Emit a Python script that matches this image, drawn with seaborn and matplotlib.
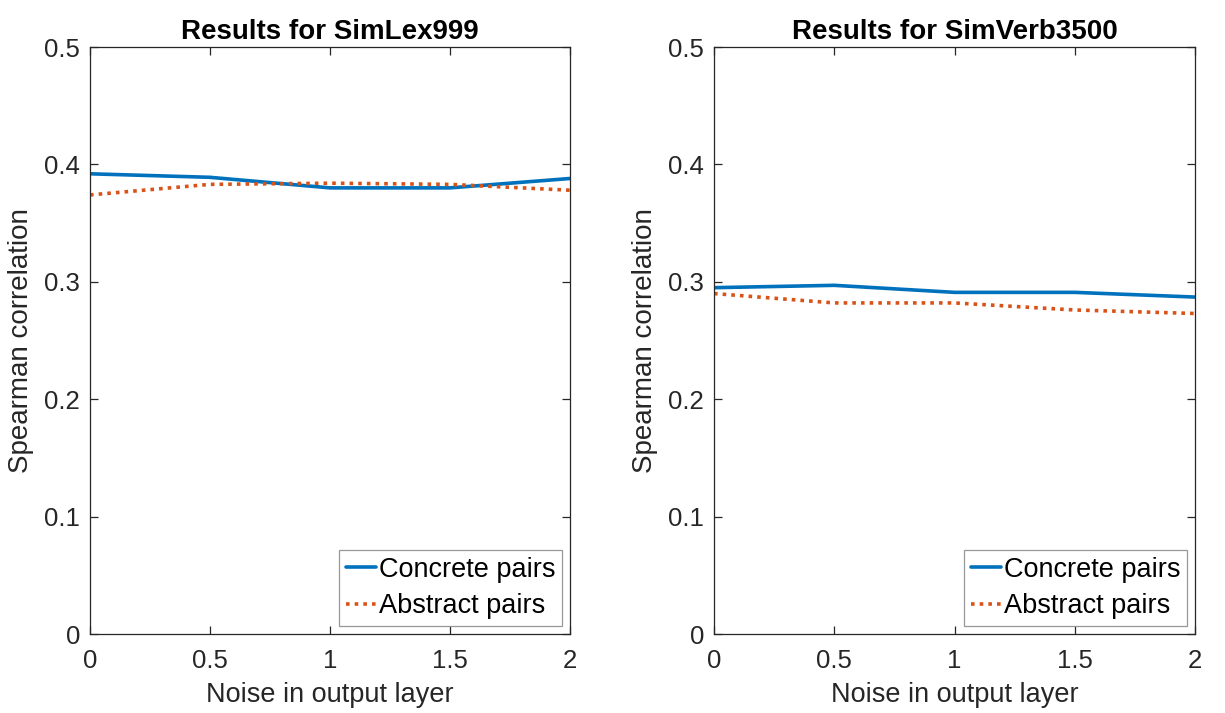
import numpy as np
import pandas as pd
import matplotlib
matplotlib.use("Agg")
import matplotlib.pyplot as plt
import seaborn as sns

noise = [0, 0.5, 1, 1.5, 2]
simlex_concrete = [0.392, 0.389, 0.380, 0.380, 0.388]
simlex_abstract = [0.374, 0.383, 0.384, 0.383, 0.378]
simverb_concrete = [0.295, 0.297, 0.291, 0.291, 0.287]
simverb_abstract = [0.290, 0.282, 0.282, 0.276, 0.273]
series_names = ["Concrete pairs", "Abstract pairs"]
titles = ["Results for SimLex999", "Results for SimVerb3500"]
x_ticklabels = ["0", "0.5", "1", "1.5", "2"]
y_ticks = [0, 0.1, 0.2, 0.3, 0.4, 0.5]
y_ticklabels = ["0", "0.1", "0.2", "0.3", "0.4", "0.5"]

sns.set_theme(style="white")
plt.rcParams["font.family"] = ["Liberation Sans", "DejaVu Sans"]

def long_frame(concrete, abstract):
    return pd.DataFrame({
        "noise": noise * 2,
        "rho": concrete + abstract,
        "pairs": [series_names[0]] * len(noise) + [series_names[1]] * len(noise),
    })

frames = [long_frame(simlex_concrete, simlex_abstract),
          long_frame(simverb_concrete, simverb_abstract)]

fig = plt.figure(figsize=(12.25, 7.13), dpi=100)
W, H = 1225, 713
ax_boxes = [(90, 47, 570, 634), (714, 47, 1195, 634)]
palette = {series_names[0]: "#0072BD", series_names[1]: "#D95319"}
LW = 2.6
text_col = "#262626"

for (x0, y0, x1, y1), df, title in zip(ax_boxes, frames, titles):
    ax = fig.add_axes([x0 / W, 1 - y1 / H, (x1 - x0) / W, (y1 - y0) / H])
    sns.lineplot(data=df, x="noise", y="rho", hue="pairs", style="pairs",
                 palette=palette,
                 dashes={series_names[0]: "", series_names[1]: (1.0, 1.4)},
                 linewidth=LW, ax=ax)
    ax.set_xlim(0, 2)
    ax.set_ylim(0, 0.5)
    ax.set_xticks(noise)
    ax.set_xticklabels(x_ticklabels)
    ax.set_yticks(y_ticks)
    ax.set_yticklabels(y_ticklabels)
    ax.tick_params(direction="in", length=6, width=0.9, top=True, right=True,
                   bottom=True, left=True, labelsize=18.5, colors=text_col)
    ax.tick_params(axis="x", pad=10.5)
    ax.tick_params(axis="y", pad=7.2)
    for s in ax.spines.values():
        s.set_color(text_col)
        s.set_linewidth(0.9)
    ax.set_xlabel("Noise in output layer", fontsize=19.5, color=text_col, labelpad=6.5)
    ax.set_ylabel("Spearman correlation", fontsize=20, color=text_col, labelpad=7)
    ax.set_title(title, fontsize=20, fontweight="bold", color="black", pad=5.6)
    leg = ax.legend(loc="lower right", fontsize=19.5, frameon=True, fancybox=False,
                    borderpad=0.25, labelspacing=0.39, handlelength=1.1,
                    handletextpad=0.11, borderaxespad=0.3, labelcolor="black")
    leg.get_frame().set_edgecolor("#7f7f7f")
    leg.get_frame().set_linewidth(0.9)
    for line in leg.get_lines():
        line.set_linewidth(LW)

fig.savefig("out.png", dpi=100)
